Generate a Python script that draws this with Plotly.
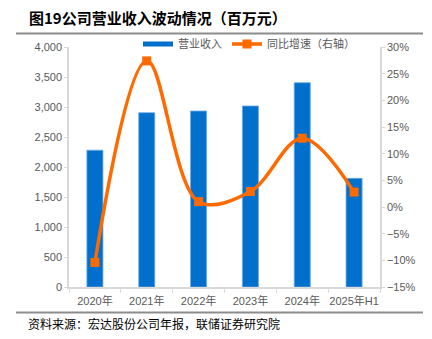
import plotly.graph_objects as go

categories = ["2020年", "2021年", "2022年", "2023年", "2024年", "2025年H1"]
revenue = [2280, 2905, 2933, 3017, 3405, 1811]
growth_pct = [-10.4, 27.4, 1.0, 2.9, 12.9, 2.8]

title_text = "图19公司营业收入波动情况（百万元）"
source_text = "资料来源：宏达股份公司年报，联储证券研究院"
bar_name = "营业收入"
line_name = "同比增速（右轴）"

BLUE = "#0070CC"
ORANGE = "#FF6A00"
GRAY_TXT = "#595959"
AXIS = "#D9D9D9"
CJK = "Noto Sans CJK SC"
LAT = "Liberation Sans, Arial"

fig = go.Figure()
fig.add_trace(go.Bar(
    x=categories, y=revenue, name=bar_name, showlegend=False,
    marker=dict(color=BLUE, line=dict(color="#6FAAE3", width=0.8)),
    yaxis="y",
))
# legend proxy for bar (thin line symbol like reference)
fig.add_trace(go.Scatter(
    x=[None], y=[None], mode="lines", name=bar_name,
    line=dict(color=BLUE, width=5), yaxis="y",
))
fig.add_trace(go.Scatter(
    x=categories, y=[g / 100 for g in growth_pct], name=line_name,
    mode="lines+markers",
    line=dict(color=ORANGE, width=3.5, shape="spline", smoothing=1.0),
    marker=dict(symbol="square", size=9, color=ORANGE),
    yaxis="y2",
))

fig.update_layout(
    width=432, height=339,
    margin=dict(l=69, r=52, t=47, b=52, autoexpand=False),
    paper_bgcolor="white", plot_bgcolor="white",
    bargap=0.69,
    font=dict(family=LAT, size=11, color=GRAY_TXT),
    xaxis=dict(
        showline=True, linecolor=AXIS, linewidth=1.5,
        ticks="outside", tickson="boundaries", ticklen=4, tickcolor=AXIS,
        showgrid=False, tickangle=0, ticklabelstandoff=3,
        tickfont=dict(family=LAT + ", " + CJK, size=11, color=GRAY_TXT),
    ),
    yaxis=dict(
        range=[0, 4000], dtick=500, tickformat=",",
        showline=True, linecolor=AXIS, linewidth=1.5,
        ticks="outside", ticklen=3, tickcolor=AXIS,
        showgrid=False, zeroline=False,
        tickfont=dict(family=LAT, size=11, color=GRAY_TXT),
    ),
    yaxis2=dict(
        range=[-0.15, 0.30], dtick=0.05, tickformat=".0%",
        overlaying="y", side="right",
        showline=True, linecolor=AXIS, linewidth=1.5,
        ticks="outside", ticklen=3, tickcolor=AXIS,
        showgrid=False, zeroline=False,
        tickfont=dict(family=LAT, size=11, color=GRAY_TXT),
    ),
    legend=dict(
        orientation="h", xref="container", yref="container",
        x=138 / 432, y=1 - 44 / 339, xanchor="left", yanchor="middle",
        font=dict(family=CJK, size=11, color=GRAY_TXT),
        itemwidth=30, tracegroupgap=0, bgcolor="rgba(0,0,0,0)",
    ),
    annotations=[
        dict(text="<b>" + title_text + "</b>", xref="paper", yref="paper",
             x=(27 - 69) / 311, y=(287 - 17) / 240, xanchor="left", yanchor="middle",
             showarrow=False, font=dict(family=CJK, size=15, color="#000000")),
        dict(text=source_text, xref="paper", yref="paper",
             x=(26 - 69) / 311, y=(287 - 323) / 240, xanchor="left", yanchor="middle",
             showarrow=False, font=dict(family=CJK, size=12, color="#000000")),
    ],
    shapes=[
        dict(type="line", xref="paper", yref="paper",
             x0=(16 - 69) / 311, x1=(423 - 69) / 311,
             y0=(287 - 33.5) / 240, y1=(287 - 33.5) / 240,
             line=dict(color="#8C8C8C", width=2)),
        dict(type="line", xref="paper", yref="paper",
             x0=(16 - 69) / 311, x1=(423 - 69) / 311,
             y0=(287 - 312.5) / 240, y1=(287 - 312.5) / 240,
             line=dict(color="#8C8C8C", width=2)),
    ],
)

fig.write_html("out.html")
